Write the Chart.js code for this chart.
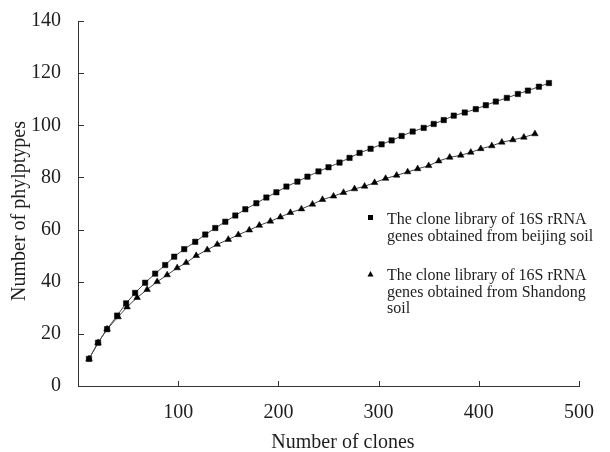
<!DOCTYPE html>
<html>
<head>
<meta charset="utf-8">
<script src="https://cdn.jsdelivr.net/npm/chart.js@4/dist/chart.umd.min.js"></script>
<style>
  html, body { margin: 0; padding: 0; background: #fff; }
  #wrap { width: 610px; height: 452px; }
</style>
</head>
<body>
<div id="wrap"><canvas id="myChart" width="610" height="452"></canvas></div>
<script>
// clones (x) and phylotypes (y)
const beijingClones = [11, 20, 29, 39, 48, 57, 67, 77, 87, 96, 106, 117, 127, 137, 147, 157, 167, 178, 188, 198,
  208, 219, 229, 240, 250, 261, 271, 281, 292, 303, 313, 323, 334, 345, 355, 365, 375, 386, 397, 407,
  417, 428, 439, 449, 460, 470];
const beijingTypes = [10.4, 16.6, 21.8, 27.0, 31.7, 35.7, 39.6, 43.1, 46.4, 49.6, 52.5, 55.3, 58.1, 60.6, 63.0, 65.4, 67.8, 70.1, 72.3, 74.3,
  76.5, 78.4, 80.3, 82.3, 83.9, 85.7, 87.5, 89.4, 91.0, 92.7, 94.2, 95.9, 97.6, 99.0, 100.5, 102.0, 103.7, 104.9, 106.2, 107.7,
  109.1, 110.5, 112.0, 113.3, 114.8, 116.2];
const shandongClones = [11, 20, 29, 40, 49, 59, 69, 79, 89, 99, 108, 118, 129, 139, 150, 160, 171, 181, 192, 202,
  212, 223, 234, 244, 255, 265, 276, 286, 296, 307, 318, 329, 339, 350, 360, 371, 382, 392, 402, 413,
  423, 434, 445, 456];
const shandongTypes = [10.4, 16.6, 21.8, 26.5, 30.3, 33.9, 37.0, 40.0, 42.6, 45.3, 47.3, 50.0, 52.2, 54.3, 56.2, 58.0, 59.8, 61.6, 63.2, 64.8,
  66.5, 67.9, 69.7, 71.5, 72.8, 74.2, 75.6, 76.6, 78.0, 79.6, 80.8, 82.1, 83.3, 84.5, 86.3, 87.7, 88.5, 89.6, 91.0, 92.1,
  93.5, 94.4, 95.4, 96.7];
const xTicks = [100, 200, 300, 400, 500];
const yTicks = [0, 20, 40, 60, 80, 100, 120, 140];
const legendLines = [
  ["The clone library of 16S rRNA", "genes obtained from beijing soil"],
  ["The clone library of 16S rRNA", "genes obtained from Shandong", "soil"],
];
const xTitle = "Number of clones";
const yTitle = "Number of phylptypes";

const serif = '"Liberation Serif", "Times New Roman", serif';
const ink = "#1e1e1e";

const toPoints = (xs, ys) => xs.map((x, i) => ({ x: x, y: ys[i] }));

const extras = {
  id: "extras",
  afterDraw: (chart) => {
    const ctx = chart.ctx;
    const { chartArea: { left, bottom }, scales: { x, y } } = chart;
    ctx.save();
    // inward tick marks
    ctx.strokeStyle = "#333";
    ctx.lineWidth = 1;
    ctx.beginPath();
    yTicks.forEach((v) => {
      const py = Math.round(y.getPixelForValue(v)) + 0.5;
      ctx.moveTo(left, py);
      ctx.lineTo(left + 6, py);
    });
    xTicks.forEach((v) => {
      const px = Math.round(x.getPixelForValue(v)) + 0.5;
      ctx.moveTo(px, bottom);
      ctx.lineTo(px, bottom - 5);
    });
    ctx.stroke();

    // axis titles
    ctx.fillStyle = ink;
    ctx.font = "20px " + serif;
    ctx.textAlign = "center";
    ctx.textBaseline = "alphabetic";
    ctx.fillText(xTitle, 343, 448);
    ctx.save();
    ctx.translate(25, 211);
    ctx.rotate(-Math.PI / 2);
    ctx.fillText(yTitle, 0, 0);
    ctx.restore();

    // legend
    ctx.font = "16px " + serif;
    ctx.textAlign = "left";
    ctx.textBaseline = "middle";
    const tops = [220, 276];
    legendLines.forEach((lines, i) => {
      lines.forEach((t, j) => ctx.fillText(t, 387, tops[i] + j * 16.5));
    });
    ctx.fillStyle = "#000";
    ctx.fillRect(368, 215, 5, 5);
    ctx.beginPath();
    ctx.moveTo(370.5, 271);
    ctx.lineTo(373.5, 276.5);
    ctx.lineTo(367.5, 276.5);
    ctx.closePath();
    ctx.fill();
    ctx.restore();
  },
};

const ctx = document.getElementById("myChart").getContext("2d");
const myChart = new Chart(ctx, {
  type: "scatter",
  data: {
    datasets: [
      {
        label: legendLines[0].join(" "),
        data: toPoints(beijingClones, beijingTypes),
        showLine: true,
        borderColor: "#444",
        borderWidth: 1,
        pointStyle: "rect",
        pointRadius: 3.8,
        pointBackgroundColor: "#000",
        pointBorderColor: "#000",
        pointBorderWidth: 0.5,
      },
      {
        label: legendLines[1].join(" "),
        data: toPoints(shandongClones, shandongTypes),
        showLine: true,
        borderColor: "#444",
        borderWidth: 1,
        pointStyle: "triangle",
        pointRadius: 3.8,
        pointBackgroundColor: "#000",
        pointBorderColor: "#000",
        pointBorderWidth: 0.5,
      },
    ],
  },
  options: {
    responsive: false,
    animation: false,
    layout: { padding: { top: 20, right: 31, left: 0, bottom: 0 } },
    scales: {
      x: {
        type: "linear",
        min: 0,
        max: 500,
        afterFit: (s) => { s.height = 66; },
        afterBuildTicks: (s) => { s.ticks = [0].concat(xTicks).map((v) => ({ value: v })); },
        ticks: {
          callback: (v) => (v === 0 ? "" : v),
          color: ink,
          padding: 7,
          maxRotation: 0,
          font: { family: serif, size: 20 },
        },
        grid: { display: false },
        border: { display: true, color: "#333", width: 1 },
      },
      y: {
        type: "linear",
        min: 0,
        max: 140,
        afterFit: (s) => { s.width = 78; },
        afterBuildTicks: (s) => { s.ticks = yTicks.map((v) => ({ value: v })); },
        ticks: {
          color: ink,
          padding: 9,
          font: { family: serif, size: 20 },
        },
        grid: { display: false },
        border: { display: true, color: "#333", width: 1 },
      },
    },
    plugins: {
      legend: { display: false },
      tooltip: { enabled: false },
    },
  },
  plugins: [extras],
});
</script>
</body>
</html>
